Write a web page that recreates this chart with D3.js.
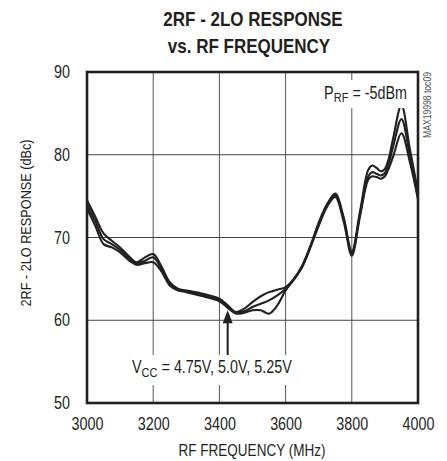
<!DOCTYPE html>
<html>
<head>
<meta charset="utf-8">
<script src="https://cdn.jsdelivr.net/npm/d3@7"></script>
<style>
  body { margin: 0; background: #fff; }
  text { font-family: "Liberation Sans", Arial, sans-serif; fill: #231f20; }
</style>
</head>
<body>
<div id="chart"></div>
<script>
var freq = [3000, 3025, 3050, 3075, 3100, 3125, 3150, 3175, 3200, 3225, 3250, 3275, 3300, 3350,
    3400, 3425, 3450, 3475, 3500, 3525, 3550, 3575, 3600, 3625, 3650, 3675, 3700, 3725, 3750,
    3775, 3800, 3825, 3850, 3862, 3875, 3888, 3900, 3912, 3925, 3950, 3975, 4000];

var vcc475 = [74.5, 72.5, 70.5, 69.6, 68.8, 67.8, 67.0, 67.6, 68.0, 66.5, 64.6, 63.8, 63.6, 63.2,
    62.6, 61.8, 61.0, 61.4, 62.2, 62.9, 63.4, 63.7, 64.0, 65.0, 66.6, 69.0, 71.8, 74.0, 75.3,
    72.5, 68.3, 73.2, 78.2, 78.7, 78.4, 78.0, 78.3, 79.6, 82.0, 86.0, 80.8, 75.5];
var vcc50 = [74.0, 72.0, 69.8, 69.2, 68.5, 67.6, 66.9, 67.2, 67.6, 66.2, 64.4, 63.7, 63.5, 63.0,
    62.4, 61.6, 60.9, 61.1, 61.6, 62.0, 62.4, 63.0, 63.8, 65.0, 66.5, 68.9, 71.6, 73.9, 75.1,
    72.3, 68.1, 72.9, 77.4, 77.9, 77.7, 77.5, 77.8, 79.0, 81.0, 84.3, 80.0, 75.0];
var vcc525 = [73.5, 71.4, 69.2, 68.8, 68.2, 67.3, 66.7, 66.9, 67.0, 65.9, 64.2, 63.6, 63.4, 62.9,
    62.3, 61.5, 60.8, 60.9, 61.2, 61.2, 60.8, 61.8, 63.6, 64.9, 66.4, 68.8, 71.4, 73.7, 74.9,
    72.0, 67.8, 72.6, 77.0, 77.4, 77.3, 77.1, 77.4, 78.4, 79.8, 82.6, 79.2, 74.6];

var xTicks = [3000, 3200, 3400, 3600, 3800, 4000];
var yTicks = [50, 60, 70, 80, 90];

var width = 447, height = 461;
var margin = { left: 87, top: 72, right: 29, bottom: 58 };
var w = width - margin.left - margin.right;
var h = height - margin.top - margin.bottom;
var squeeze = 0.82; // condensed look

var svg = d3.select("#chart").append("svg")
    .attr("width", width)
    .attr("height", height);

var x = d3.scaleLinear().domain([3000, 4000]).range([0, w]);
var y = d3.scaleLinear().domain([50, 90]).range([h, 0]);

function label(parent, px, py, txt, size, anchor, rot) {
    return parent.append("text")
        .attr("transform", "translate(" + px + "," + py + ")" + (rot ? " rotate(" + rot + ")" : "") + " scale(" + squeeze + ",1)")
        .attr("text-anchor", anchor || "start")
        .style("font-size", size + "px")
        .text(txt);
}

// titles
label(svg, 253, 26, "2RF - 2LO RESPONSE", 20, "middle").style("font-weight", "bold")
    .attr("transform", "translate(253,26) scale(0.85,1)");
label(svg, 249, 53, "vs. RF FREQUENCY", 20, "middle").style("font-weight", "bold")
    .attr("transform", "translate(249,53) scale(0.85,1)");

var g = svg.append("g").attr("transform", "translate(" + margin.left + "," + margin.top + ")");

// grid
g.selectAll(".vgrid").data(xTicks.slice(1, -1)).enter().append("line")
    .attr("x1", d => x(d)).attr("x2", d => x(d))
    .attr("y1", 0).attr("y2", h)
    .attr("stroke", "#555").attr("stroke-width", 1);
g.selectAll(".hgrid").data(yTicks.slice(1, -1)).enter().append("line")
    .attr("x1", 0).attr("x2", w)
    .attr("y1", d => y(d)).attr("y2", d => y(d))
    .attr("stroke", "#444").attr("stroke-width", 1);

// axes labels
var xAxis = d3.axisBottom(x).tickValues(xTicks).tickFormat(d3.format("d")).tickSize(0).tickPadding(15);
var xg = g.append("g").attr("transform", "translate(0," + h + ")").call(xAxis);
xg.select(".domain").remove();
xg.selectAll("text").style("font-size", "17.5px").attr("fill", "#231f20")
    .attr("transform", "scale(" + squeeze + ",1)");

var yAxis = d3.axisLeft(y).tickValues(yTicks).tickSize(0).tickPadding(17 / squeeze);
var yg = g.append("g").call(yAxis);
yg.select(".domain").remove();
yg.selectAll("text").style("font-size", "17.5px").attr("fill", "#231f20")
    .attr("transform", "scale(" + squeeze + ",1)");

label(svg, 252, 456, "RF FREQUENCY (MHz)", 16.5, "middle");
label(svg, 31, 223, "2RF - 2LO RESPONSE (dBc)", 15.5, "middle", -90);

// curves
var line = d3.line()
    .x((d, i) => x(freq[i]))
    .y(d => y(d))
    .curve(d3.curveCatmullRom.alpha(0.5));

g.selectAll(".curve").data([vcc475, vcc50, vcc525]).enter().append("path")
    .attr("d", line)
    .attr("fill", "none")
    .attr("stroke", "#231f20")
    .attr("stroke-width", 2.1);

// P_RF label with white background
g.append("rect").attr("x", 228).attr("y", 8).attr("width", 96).attr("height", 28).attr("fill", "#fff");
var pt = label(g, w - 11, 27, "", 17.5, "end");
pt.append("tspan").text("P");
pt.append("tspan").attr("dy", 3).style("font-size", "13.5px").text("RF");
pt.append("tspan").attr("dy", -3).text(" = -5dBm");

// V_CC label
g.append("rect").attr("x", 42).attr("y", 283).attr("width", 172).attr("height", 30).attr("fill", "#fff");
var vt = label(g, 45, 301, "", 17.5, "start");
vt.append("tspan").text("V");
vt.append("tspan").attr("dy", 4).style("font-size", "13.5px").text("CC");
vt.append("tspan").attr("dy", -4).text(" = 4.75V, 5.0V, 5.25V");

// arrow
var ax = x(3425), tip = y(61.2);
g.append("line").attr("x1", ax).attr("x2", ax).attr("y1", tip + 5).attr("y2", 283)
    .attr("stroke", "#231f20").attr("stroke-width", 2);
g.append("path")
    .attr("d", "M" + ax + "," + tip + " L" + (ax - 5) + "," + (tip + 13) + " L" + (ax + 5) + "," + (tip + 13) + " Z")
    .attr("fill", "#231f20");

// frame
g.append("rect").attr("x", 0).attr("y", 0).attr("width", w).attr("height", h)
    .attr("fill", "none").attr("stroke", "#231f20").attr("stroke-width", 2.6);

// side code
label(svg, 431, 72, "MAX19998 toc09", 10.5, "end", -90).style("fill", "#555");
</script>
</body>
</html>
